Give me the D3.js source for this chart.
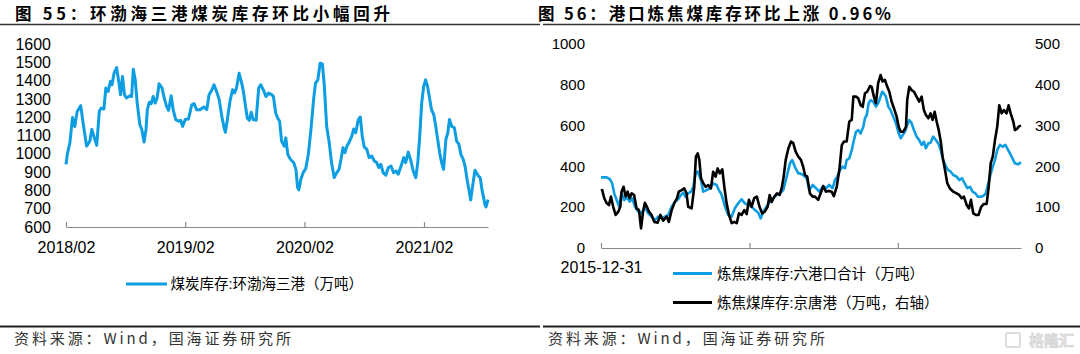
<!DOCTYPE html>
<html><head><meta charset="utf-8">
<script src="https://cdn.jsdelivr.net/npm/d3@7/dist/d3.min.js"></script>
<style>
html,body{margin:0;padding:0;background:#fff;}
svg{display:block;}
text{font-family:"Liberation Sans","Noto Sans CJK SC",Arial,sans-serif;fill:#000;}
.cjk{font-family:"Noto Sans CJK SC","Liberation Sans",sans-serif;}
</style></head>
<body><svg id="c" width="1080" height="354"></svg>
<script>
// ---------------- DATA ----------------
const leftTitle = "图 55：环渤海三港煤炭库存环比小幅回升";
const rightTitle = "图 56：港口炼焦煤库存环比上涨 0.96%";
const sourceText = "资料来源：Wind，国海证券研究所";
const leftLegend = "煤炭库存:环渤海三港（万吨）";
const rightLegend = ["炼焦煤库存:六港口合计（万吨）", "炼焦煤库存:京唐港（万吨，右轴）"];

const leftYTicks = [600,700,800,900,1000,1100,1200,1300,1400,1500,1600];
const leftXTicks = ["2018-02-01","2019-02-01","2020-02-01","2021-02-01"];
const leftXDomain = ["2018-02-01","2021-08-16"];

// 煤炭库存:环渤海三港（万吨）
const bohaiStock = [
["2018-02-01",942],["2018-02-05",997],["2018-02-13",1062],["2018-02-21",1198],["2018-02-28",1149],
["2018-03-07",1230],["2018-03-18",1263],["2018-03-26",1160],["2018-04-05",1042],["2018-04-15",1069],
["2018-04-21",1133],["2018-04-29",1087],["2018-05-06",1046],["2018-05-14",1232],["2018-05-20",1250],
["2018-05-28",1245],["2018-06-03",1359],["2018-06-10",1341],["2018-06-17",1395],["2018-06-22",1377],
["2018-06-28",1440],["2018-07-06",1471],["2018-07-14",1377],["2018-07-18",1323],["2018-07-24",1423],
["2018-07-30",1323],["2018-08-05",1305],["2018-08-16",1317],["2018-08-21",1313],["2018-08-26",1462],
["2018-09-01",1404],["2018-09-07",1277],["2018-09-15",1160],["2018-09-21",1133],["2018-09-28",1064],
["2018-10-04",1133],["2018-10-08",1241],["2018-10-14",1281],["2018-10-20",1274],["2018-10-26",1313],
["2018-11-01",1277],["2018-11-07",1305],["2018-11-13",1383],["2018-11-22",1359],["2018-11-30",1296],
["2018-12-06",1259],["2018-12-12",1238],["2018-12-20",1317],["2018-12-26",1241],["2019-01-03",1187],
["2019-01-12",1178],["2019-01-18",1183],["2019-01-24",1150],["2019-02-01",1187],["2019-02-11",1190],
["2019-02-21",1268],["2019-02-28",1274],["2019-03-08",1241],["2019-03-18",1241],["2019-03-30",1256],
["2019-04-08",1241],["2019-04-15",1323],["2019-04-24",1350],["2019-04-30",1377],["2019-05-08",1341],
["2019-05-16",1296],["2019-05-24",1205],["2019-05-31",1142],["2019-06-04",1118],["2019-06-10",1187],
["2019-06-18",1287],["2019-06-26",1350],["2019-07-02",1332],["2019-07-08",1359],["2019-07-16",1440],
["2019-07-24",1386],["2019-07-29",1341],["2019-08-04",1268],["2019-08-10",1196],["2019-08-16",1183],
["2019-08-22",1227],["2019-08-28",1187],["2019-09-06",1183],["2019-09-14",1359],["2019-09-20",1377],
["2019-09-28",1350],["2019-10-06",1313],["2019-10-14",1332],["2019-10-24",1323],["2019-10-29",1313],
["2019-11-05",1223],["2019-11-11",1196],["2019-11-17",1178],["2019-11-23",1069],["2019-12-01",1042],
["2019-12-06",1087],["2019-12-12",997],["2019-12-20",970],["2019-12-30",952],["2020-01-06",915],
["2020-01-11",816],["2020-01-15",803],["2020-01-21",861],["2020-01-28",897],["2020-02-05",919],
["2020-02-13",997],["2020-02-21",1133],["2020-02-29",1296],["2020-03-06",1386],["2020-03-13",1404],
["2020-03-20",1495],["2020-03-27",1491],["2020-04-02",1368],["2020-04-09",1150],["2020-04-17",1060],
["2020-04-24",952],["2020-05-02",870],["2020-05-10",897],["2020-05-17",915],["2020-05-23",970],
["2020-05-29",1033],["2020-06-04",1006],["2020-06-10",1042],["2020-06-16",1060],["2020-06-25",1096],
["2020-07-01",1136],["2020-07-07",1115],["2020-07-15",1187],["2020-07-21",1201],["2020-07-27",1096],
["2020-08-02",1038],["2020-08-10",1024],["2020-08-17",979],["2020-08-25",988],["2020-09-02",961],
["2020-09-09",952],["2020-09-16",925],["2020-09-22",942],["2020-09-29",897],["2020-10-07",883],
["2020-10-15",925],["2020-10-23",933],["2020-10-31",897],["2020-11-08",906],["2020-11-14",888],
["2020-11-23",933],["2020-12-01",979],["2020-12-07",952],["2020-12-15",1009],["2020-12-23",961],
["2020-12-30",906],["2021-01-07",870],["2021-01-13",952],["2021-01-19",1096],["2021-01-25",1277],
["2021-01-31",1368],["2021-02-06",1404],["2021-02-12",1368],["2021-02-18",1305],["2021-02-24",1241],
["2021-03-03",1214],["2021-03-09",1150],["2021-03-15",1078],["2021-03-21",1006],["2021-03-27",952],
["2021-04-02",915],["2021-04-09",1078],["2021-04-15",1115],["2021-04-20",1187],["2021-04-27",1150],
["2021-05-05",1142],["2021-05-12",1069],["2021-05-19",1051],["2021-05-25",997],["2021-06-01",970],
["2021-06-07",930],["2021-06-13",860],["2021-06-19",800],["2021-06-24",747],["2021-06-28",800],
["2021-07-07",910],["2021-07-17",880],["2021-07-23",870],["2021-07-29",800],["2021-08-07",720],
["2021-08-10",710],["2021-08-16",750]
];

const rightYTicksL = [0,200,400,600,800,1000];
const rightYTicksR = [0,100,200,300,400,500];
const rightXTicks = ["2015-12-31","2017-12-31","2019-12-31"];
const rightXTickLabels = ["2015-12-31","",""];
const rightXDomain = ["2015-12-31","2021-08-28"];

// 炼焦煤库存:六港口合计（万吨）
const sixPortsStock = [
["2015-12-31",346],["2016-01-28",346],["2016-02-13",337],["2016-02-24",317],["2016-03-05",268],
["2016-03-17",235],["2016-03-29",203],["2016-04-10",268],["2016-04-23",235],["2016-05-07",248],
["2016-05-20",227],["2016-06-02",243],["2016-06-15",203],["2016-07-01",178],["2016-07-18",170],
["2016-08-03",203],["2016-08-19",170],["2016-09-05",154],["2016-09-21",137],["2016-10-08",154],
["2016-10-24",145],["2016-11-10",154],["2016-11-26",162],["2016-12-13",203],["2016-12-29",227],
["2017-01-14",239],["2017-01-27",260],["2017-02-08",271],["2017-02-19",251],["2017-03-04",268],
["2017-03-18",276],["2017-03-29",300],["2017-04-10",366],["2017-04-20",375],["2017-05-06",333],
["2017-05-17",276],["2017-06-03",284],["2017-06-19",293],["2017-07-05",317],["2017-07-22",309],
["2017-08-02",284],["2017-08-16",260],["2017-09-01",203],["2017-09-17",162],["2017-10-04",154],
["2017-10-20",195],["2017-11-05",219],["2017-11-22",239],["2017-12-08",219],["2017-12-25",211],
["2018-01-10",203],["2018-01-27",186],["2018-02-12",173],["2018-02-24",145],["2018-03-08",178],
["2018-03-25",203],["2018-04-10",227],["2018-04-27",243],["2018-05-13",260],["2018-05-30",268],
["2018-06-15",284],["2018-07-02",350],["2018-07-18",415],["2018-07-29",431],["2018-08-11",398],
["2018-08-28",366],["2018-09-05",366],["2018-09-21",358],["2018-10-08",342],["2018-10-21",284],
["2018-11-07",309],["2018-11-23",293],["2018-12-09",276],["2018-12-26",300],["2019-01-11",293],
["2019-01-27",309],["2019-02-13",293],["2019-02-24",333],["2019-03-08",350],["2019-03-21",382],
["2019-04-03",399],["2019-04-15",391],["2019-04-23",431],["2019-05-06",440],["2019-05-18",480],
["2019-05-29",529],["2019-06-08",570],["2019-06-19",578],["2019-07-01",562],["2019-07-14",595],
["2019-07-22",636],["2019-07-31",652],["2019-08-09",709],["2019-08-19",725],["2019-09-01",717],
["2019-09-14",693],["2019-09-25",709],["2019-10-04",734],["2019-10-15",766],["2019-10-23",758],
["2019-11-02",742],["2019-11-14",693],["2019-11-25",676],["2019-12-08",644],["2019-12-22",611],
["2020-01-04",562],["2020-01-14",538],["2020-01-24",554],["2020-02-04",570],["2020-02-15",603],
["2020-02-25",627],["2020-03-08",611],["2020-03-19",578],["2020-04-01",546],["2020-04-14",529],
["2020-04-26",505],["2020-05-07",521],["2020-05-17",489],["2020-05-29",513],["2020-06-09",516],
["2020-06-22",546],["2020-07-05",529],["2020-07-17",513],["2020-07-29",480],["2020-08-10",431],
["2020-08-24",399],["2020-09-04",382],["2020-09-16",374],["2020-09-29",358],["2020-10-15",350],
["2020-10-28",333],["2020-11-10",342],["2020-11-24",317],["2020-12-07",293],["2020-12-20",300],
["2021-01-02",276],["2021-01-15",268],["2021-01-28",251],["2021-02-10",251],["2021-02-23",255],
["2021-03-08",268],["2021-03-20",317],["2021-03-28",350],["2021-04-11",399],["2021-04-22",431],
["2021-05-03",480],["2021-05-16",505],["2021-05-30",497],["2021-06-12",505],["2021-06-26",480],
["2021-07-13",448],["2021-07-29",415],["2021-08-13",410],["2021-08-28",420]
];

// 炼焦煤库存:京唐港（万吨，右轴）
const jingtangStock = [
["2015-12-31",140],["2016-01-06",142],["2016-01-16",122],["2016-01-28",110],["2016-02-08",105],
["2016-02-18",126],["2016-02-29",101],["2016-03-12",81],["2016-03-25",89],["2016-04-04",101],
["2016-04-10",138],["2016-04-20",150],["2016-04-30",126],["2016-05-10",138],["2016-05-20",122],
["2016-05-30",134],["2016-06-11",130],["2016-06-23",97],["2016-07-05",93],["2016-07-15",48],
["2016-07-25",89],["2016-08-03",111],["2016-08-13",101],["2016-08-23",89],["2016-09-05",81],
["2016-09-18",64],["2016-10-05",62],["2016-10-18",81],["2016-11-01",67],["2016-11-18",77],
["2016-11-29",64],["2016-12-13",93],["2016-12-26",110],["2017-01-08",122],["2017-01-17",138],
["2017-01-31",142],["2017-02-13",146],["2017-02-24",134],["2017-03-04",101],["2017-03-21",97],
["2017-04-03",150],["2017-04-11",224],["2017-04-20",232],["2017-04-28",216],["2017-05-06",171],
["2017-05-17",159],["2017-05-29",150],["2017-06-11",154],["2017-06-24",146],["2017-07-05",187],
["2017-07-17",175],["2017-07-27",195],["2017-08-07",183],["2017-08-19",193],["2017-08-29",150],
["2017-09-09",110],["2017-09-21",81],["2017-10-04",61],["2017-10-17",64],["2017-10-29",61],
["2017-11-09",85],["2017-11-22",81],["2017-12-05",93],["2017-12-17",83],["2017-12-28",118],
["2018-01-10",101],["2018-01-23",122],["2018-02-05",126],["2018-02-18",101],["2018-03-03",85],
["2018-03-16",89],["2018-03-30",101],["2018-04-09",130],["2018-04-19",113],["2018-05-02",126],
["2018-05-15",134],["2018-05-28",130],["2018-06-07",146],["2018-06-17",175],["2018-06-27",216],
["2018-07-10",244],["2018-07-23",261],["2018-08-03",257],["2018-08-15",236],["2018-08-28",224],
["2018-09-10",216],["2018-09-21",199],["2018-09-30",179],["2018-10-11",175],["2018-10-24",134],
["2018-11-07",126],["2018-11-18",126],["2018-12-04",118],["2018-12-16",134],["2018-12-29",152],
["2019-01-11",138],["2019-01-24",140],["2019-02-08",138],["2019-02-19",127],["2019-03-05",150],
["2019-03-18",191],["2019-03-30",252],["2019-04-10",261],["2019-04-23",261],["2019-05-06",310],
["2019-05-18",314],["2019-05-26",371],["2019-06-08",371],["2019-06-19",367],["2019-07-01",350],
["2019-07-11",346],["2019-07-22",379],["2019-08-02",383],["2019-08-16",397],["2019-08-24",395],
["2019-09-04",371],["2019-09-14",355],["2019-09-25",404],["2019-10-07",424],["2019-10-17",408],
["2019-10-28",412],["2019-11-09",395],["2019-11-19",383],["2019-11-30",359],["2019-12-12",342],
["2019-12-25",322],["2020-01-04",297],["2020-01-14",285],["2020-01-27",285],["2020-02-09",297],
["2020-02-15",363],["2020-02-25",395],["2020-03-08",387],["2020-03-19",383],["2020-04-01",371],
["2020-04-14",359],["2020-04-26",371],["2020-05-07",338],["2020-05-17",326],["2020-05-29",318],
["2020-06-09",330],["2020-06-19",314],["2020-06-29",334],["2020-07-09",310],["2020-07-19",289],
["2020-07-29",261],["2020-08-07",224],["2020-08-19",191],["2020-08-30",159],["2020-09-12",146],
["2020-09-29",138],["2020-10-15",134],["2020-10-28",130],["2020-11-09",122],["2020-11-20",126],
["2020-12-04",105],["2020-12-15",97],["2020-12-25",118],["2021-01-05",85],["2021-01-18",81],
["2021-01-31",81],["2021-02-13",101],["2021-02-26",108],["2021-03-12",108],["2021-03-22",150],
["2021-04-01",208],["2021-04-11",224],["2021-04-22",265],["2021-05-03",297],["2021-05-13",350],
["2021-05-25",330],["2021-06-05",338],["2021-06-18",330],["2021-06-28",350],["2021-07-08",330],
["2021-07-21",310],["2021-07-29",289],["2021-08-08",292],["2021-08-18",298],["2021-08-28",300]
];

// ---------------- DRAW ----------------
const parse = d3.timeParse("%Y-%m-%d");
const svg = d3.select("#c");
const BLUE = "#0c9de2";

// titles + rules
function header(x, txt, len, lineX0, lineX1){
  svg.append("text").attr("class","cjk").attr("x",x).attr("y",19.5)
    .attr("font-size",16.5).attr("font-weight",700)
    .attr("textLength",len).attr("lengthAdjust","spacing").text(txt);
  svg.append("line").attr("x1",lineX0).attr("x2",lineX1).attr("y1",24.5).attr("y2",24.5)
    .attr("stroke","#333").attr("stroke-width",1.5);
}
header(15, leftTitle, 375, 0, 540);
header(538, rightTitle, 353, 543, 1080);

function footer(x, lineX0, lineX1){
  svg.append("line").attr("x1",lineX0).attr("x2",lineX1).attr("y1",326.5).attr("y2",326.5)
    .attr("stroke","#222").attr("stroke-width",1.8);
  svg.append("text").attr("class","cjk").attr("x",x).attr("y",344)
    .attr("font-size",15).style("fill","#333")
    .attr("textLength",277).attr("lengthAdjust","spacing").text(sourceText);
}
footer(14, 0, 540);
footer(548, 543, 1080);

// watermark
svg.append("text").attr("class","cjk").attr("x",1074).attr("y",346).attr("text-anchor","end")
  .attr("font-size",15).attr("font-weight",700).style("fill","#e6e6e6")
  .attr("stroke","#cfcfcf").attr("stroke-width",0.6).text("格隆汇");
svg.append("rect").attr("x",1006).attr("y",333).attr("width",14).attr("height",14).attr("rx",2)
  .attr("fill","none").attr("stroke","#d4d4d4").attr("stroke-width",1.5);

// ---------- LEFT CHART ----------
const xL = d3.scaleTime().domain(leftXDomain.map(parse)).range([66,488]);
const yL = d3.scaleLinear().domain([600,1600]).range([227,44]);

const gL = svg.append("g");
gL.selectAll("text.yl").data(leftYTicks).join("text").attr("class","yl")
  .attr("x",51).attr("y",d=>yL(d)).attr("dy","0.35em").attr("text-anchor","end")
  .attr("font-size",16).text(d=>d);

const axL = d3.axisBottom(xL).tickValues(leftXTicks.map(parse))
  .tickFormat(d3.timeFormat("%Y/%m")).tickSizeInner(-5).tickSizeOuter(0).tickPadding(15);
const gax = gL.append("g").attr("transform","translate(0,227)").call(axL);
gax.select(".domain").attr("stroke","#8a8a8a").attr("stroke-width",1.2);
gax.selectAll(".tick line").attr("stroke","#8a8a8a").attr("stroke-width",1.2);
gax.selectAll(".tick text").attr("font-size",16).attr("fill","#000")
  .attr("font-family","Liberation Sans, Arial, sans-serif");

const lineL = d3.line().x(d=>xL(parse(d[0]))).y(d=>yL(d[1]));
gL.append("path").datum(bohaiStock).attr("d",lineL).attr("fill","none")
  .attr("stroke",BLUE).attr("stroke-width",3).attr("stroke-linejoin","round");

// legend left
gL.append("line").attr("x1",126).attr("x2",167).attr("y1",284).attr("y2",284)
  .attr("stroke",BLUE).attr("stroke-width",3);
gL.append("text").attr("x",170.5).attr("y",284).attr("dy","0.36em").attr("font-size",14.5)
  .text(leftLegend);

// ---------- RIGHT CHART ----------
const xR = d3.scaleTime().domain(rightXDomain.map(parse)).range([601,1021]);
const yR1 = d3.scaleLinear().domain([0,1000]).range([248,44]);
const yR2 = d3.scaleLinear().domain([0,500]).range([248,44]);

const gR = svg.append("g");
gR.selectAll("text.yr1").data(rightYTicksL).join("text").attr("class","yr1")
  .attr("x",585).attr("y",d=>yR1(d)).attr("dy","0.35em").attr("text-anchor","end")
  .attr("font-size",15).text(d=>d);
gR.selectAll("text.yr2").data(rightYTicksR).join("text").attr("class","yr2")
  .attr("x",1035).attr("y",d=>yR2(d)).attr("dy","0.35em").attr("text-anchor","start")
  .attr("font-size",15).text(d=>d);

const axR = d3.axisBottom(xR).tickValues(rightXTicks.map(parse))
  .tickFormat((d,i)=>rightXTickLabels[i]).tickSizeInner(-5).tickSizeOuter(0).tickPadding(14);
const gaxR = gR.append("g").attr("transform","translate(0,248)").call(axR);
gaxR.select(".domain").attr("stroke","#8a8a8a").attr("stroke-width",1.2);
gaxR.selectAll(".tick line").attr("stroke","#8a8a8a").attr("stroke-width",1.2);
gaxR.selectAll(".tick text").attr("font-size",16).attr("fill","#000")
  .attr("font-family","Liberation Sans, Arial, sans-serif");

const lineR1 = d3.line().x(d=>xR(parse(d[0]))).y(d=>yR1(d[1]));
const lineR2 = d3.line().x(d=>xR(parse(d[0]))).y(d=>yR2(d[1]));
gR.append("path").datum(sixPortsStock).attr("d",lineR1).attr("fill","none")
  .attr("stroke",BLUE).attr("stroke-width",2.6).attr("stroke-linejoin","round");
gR.append("path").datum(jingtangStock).attr("d",lineR2).attr("fill","none")
  .attr("stroke","#000").attr("stroke-width",2.6).attr("stroke-linejoin","round");

// legend right
const legColors = [BLUE, "#000"];
const legY = [273.5, 302.5];
rightLegend.forEach((t,i)=>{
  gR.append("line").attr("x1",673).attr("x2",712).attr("y1",legY[i]).attr("y2",legY[i])
    .attr("stroke",legColors[i]).attr("stroke-width",3);
  gR.append("text").attr("x",717).attr("y",legY[i]).attr("dy","0.36em").attr("font-size",14.5).text(t);
});
</script>
</body></html>
